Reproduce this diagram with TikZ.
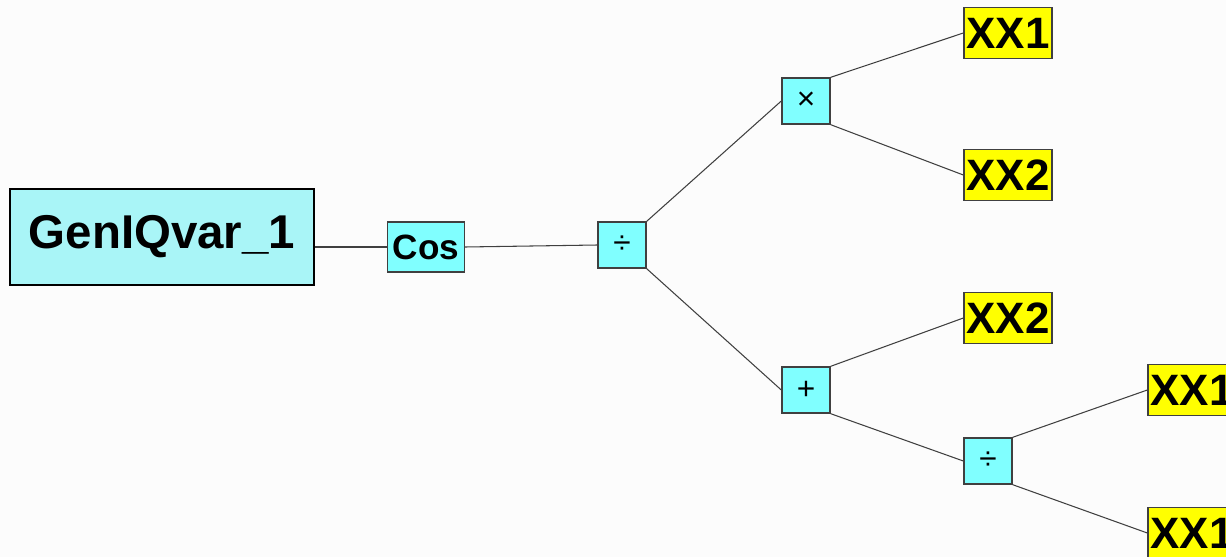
\documentclass[tikz,border=0pt]{standalone}
\usepackage{fontspec}
\setmainfont{Liberation Sans}
\definecolor{rootcyan}{HTML}{A9F5F7}
\definecolor{opcyan}{HTML}{80FFFF}
\definecolor{leafyellow}{HTML}{FFFF00}
\definecolor{wire}{HTML}{404040}
\definecolor{paper}{HTML}{FCFCFC}

\begin{document}
\begin{tikzpicture}[x=0.02cm, y=-0.02cm,
  every node/.style = {shape=rectangle, draw=black!75, align=center,
    inner sep=0pt, line width=0.8pt},
  root/.style = {fill=rootcyan, draw=black, line width=1.1pt,
    minimum width=6.08cm, minimum height=1.92cm,
    font=\bfseries\fontsize{27}{30}\selectfont},
  func/.style = {fill=opcyan, minimum width=1.54cm, minimum height=1cm,
    font=\bfseries\fontsize{20}{22}\selectfont},
  oper/.style = {fill=opcyan, minimum width=0.96cm, minimum height=0.92cm,
    font=\fontsize{18}{20}\selectfont},
  leaf/.style = {fill=leafyellow, minimum width=1.76cm, minimum height=1.02cm,
    font=\bfseries\fontsize{25}{27}\selectfont},
  wire/.style = {draw=wire, line width=0.6pt}]
  \path[use as bounding box, fill=paper] (0,0) rectangle (1226,557);

  \node[root] (genIQ) at (162,237) {GenIQvar\_1};
  \node[func] (cos) at (426,247) {Cos};
  \node[oper] (div) at (622,245) {÷};
  \node[oper] (mul) at (806,101) {×};
  \node[oper] (add) at (806,390) {+};
  \node[leaf] (xxa) at (1008,33) {XX1};
  \node[leaf] (xxb) at (1008,175) {XX2};
  \node[leaf] (xxc) at (1008,318) {XX2};
  \node[oper] (divb) at (988,461) {÷};
  \node[leaf] (xxd) at (1192,390) {XX1};
  \node[leaf] (xxe) at (1192,533) {XX1};

  \draw[wire] (cos.west -| genIQ.east) -- (cos.west);
  \draw[wire] (cos.east) -- (div.west);
  \draw[wire] (div.north east) -- (mul.west);
  \draw[wire] (div.south east) -- (add.west);
  \draw[wire] (mul.north east) -- (xxa.west);
  \draw[wire] (mul.south east) -- (xxb.west);
  \draw[wire] (add.north east) -- (xxc.west);
  \draw[wire] (add.south east) -- (divb.west);
  \draw[wire] (divb.north east) -- (xxd.west);
  \draw[wire] (divb.south east) -- (xxe.west);
\end{tikzpicture}
\end{document}
